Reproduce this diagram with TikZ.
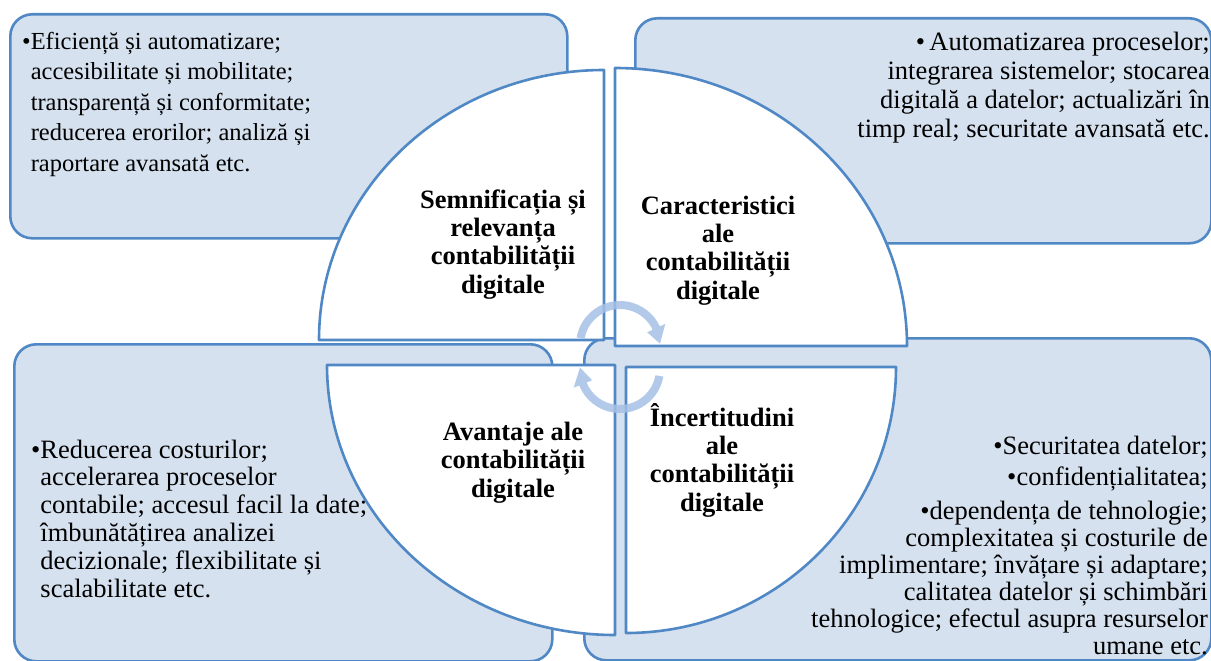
\documentclass[tikz,border=0pt]{standalone}
\usepackage{fontspec}
\setmainfont{Liberation Serif}
\definecolor{edgec}{RGB}{80,136,198}
\definecolor{boxfill}{RGB}{214,225,239}
\definecolor{arrowc}{RGB}{165,192,230}
\begin{document}
\begin{tikzpicture}[x=1pt,y=1pt,yscale=-1,
  box/.style={draw=edgec, fill=boxfill, line width=2.6pt, rounded corners=22pt, inner sep=0pt, anchor=north west},
  quad/.style={draw=edgec, fill=white, line width=2.6pt, line join=round},
  cyc/.style={fill=arrowc, fill opacity=0.85, draw=none},
  bodytext/.style={inner sep=0pt, font=\fontsize{26.5}{28}\selectfont},
  label/.style={inner sep=0pt, align=center, anchor=base, font=\bfseries\fontsize{26.5}{28.3}\selectfont}]
\useasboundingbox (0,0) rectangle (1211,661);

% outer boxes
\node[box, minimum width=557pt, minimum height=224pt] (tlbox) at (9,13) {};
\node[box, minimum width=576pt, minimum height=225pt] (trbox) at (634,17) {};
\node[box, minimum width=538pt, minimum height=317pt] (blbox) at (13,343) {};
\node[box, minimum width=627pt, minimum height=322pt] (brbox) at (583,337) {};

% quadrants
\draw[quad] (604,340) -- (319,340) arc[start angle=180, end angle=270, x radius=285, y radius=270] -- cycle;
\draw[quad] (615,346) -- (615,68) arc[start angle=270, end angle=360, x radius=292, y radius=278] -- cycle;
\draw[quad] (327,365) -- (615,365) -- (615,635) arc[start angle=90, end angle=180, x radius=288, y radius=270] -- cycle;
\draw[quad] (626,633) -- (626,367) -- (896,367) arc[start angle=0, end angle=90, x radius=270, y radius=266] -- cycle;

% cycle arrows
\begin{scope}[shift={(620,345)}]
\fill[cyc] (190:44) arc[start angle=190, end angle=335, radius=44] -- (335:50) -- (358:40) -- (335:30) -- (335:36) arc[start angle=335, end angle=190, radius=36] -- cycle;
\end{scope}
\begin{scope}[shift={(620,369)}]
\fill[cyc] (10:44) arc[start angle=10, end angle=158, radius=44] -- (158:50) -- (182:40) -- (158:30) -- (158:36) arc[start angle=158, end angle=10, radius=36] -- cycle;
\end{scope}

% box texts (anchor = baseline of the last line)
\node[bodytext, anchor=base west, align=left, font=\fontsize{24.5}{30.5}\selectfont] (tltext) at (22,171)
 {•Eficiență și automatizare;\\
  \hphantom{•}accesibilitate și mobilitate;\\
  \hphantom{•}transparență și conformitate;\\
  \hphantom{•}reducerea erorilor; analiză și\\
  \hphantom{•}raportare avansată etc.};
\node[bodytext, anchor=base east, align=right, font=\fontsize{26.5}{28.7}\selectfont] (trtext) at (1210,137)
 {•\,Automatizarea proceselor;\\
  integrarea sistemelor; stocarea\\
  digitală a datelor; actualizări în\\
  timp real; securitate avansată etc.};
\node[bodytext, anchor=base west, align=left, font=\fontsize{26.5}{27.8}\selectfont] (bltext) at (31,597)
 {•Reducerea costurilor;\\
  \hphantom{•}accelerarea proceselor\\
  \hphantom{•}contabile; accesul facil la date;\\
  \hphantom{•}îmbunătățirea analizei\\
  \hphantom{•}decizionale; flexibilitate și\\
  \hphantom{•}scalabilitate etc.};
\node[bodytext, anchor=base east, align=right, font=\fontsize{26.5}{27}\selectfont] (brtext) at (1208,654)
 {•Securitatea datelor;\\[4pt]
  •confidențialitatea;\\[7pt]
  •dependența de tehnologie;\\
  complexitatea și costurile de\\
  implimentare; învățare și adaptare;\\
  calitatea datelor și schimbări\\
  tehnologice; efectul asupra resurselor\\
  umane etc.};

% quadrant labels (anchor = baseline of the last line)
\node[label] (tllabel) at (503,293) {Semnificația și\\relevanța\\contabilității\\digitale};
\node[label] (trlabel) at (718,299) {Caracteristici\\ale\\contabilității\\digitale};
\node[label] (bllabel) at (513,497) {Avantaje ale\\contabilității\\digitale};
\node[label] (brlabel) at (722,511) {Încertitudini\\ale\\contabilității\\digitale};
\end{tikzpicture}
\end{document}
